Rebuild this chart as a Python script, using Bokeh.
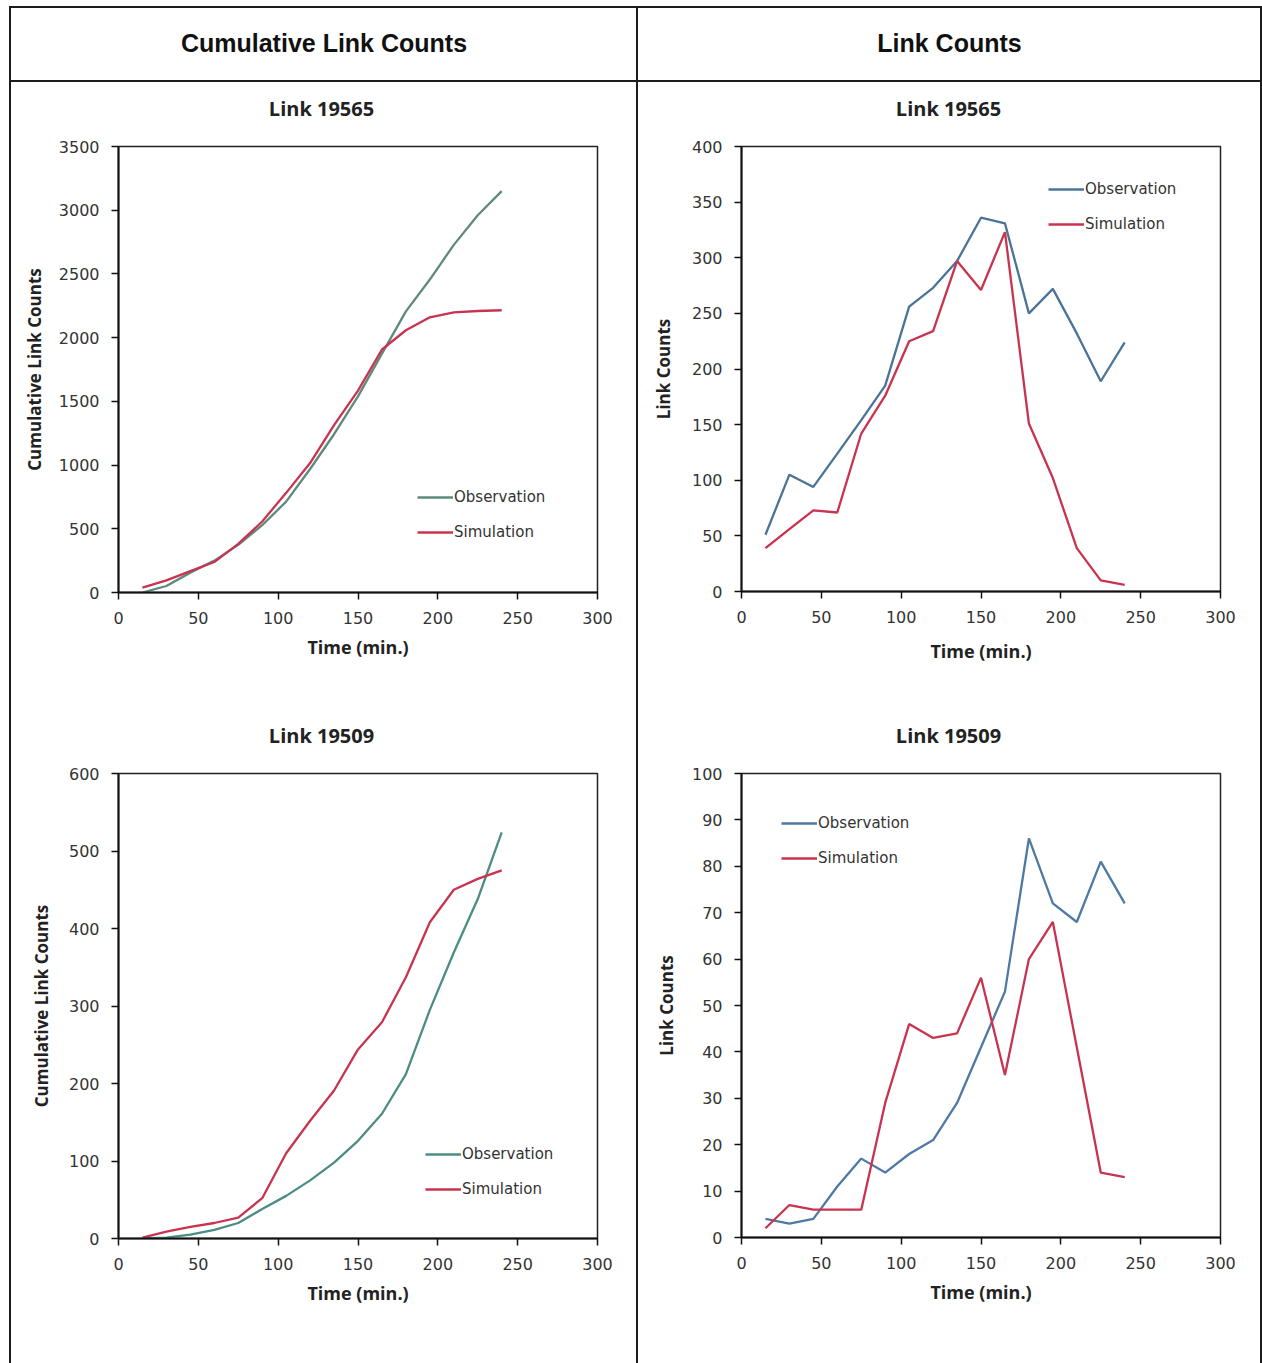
from bokeh.plotting import figure
from bokeh.models import Range1d, FixedTicker, Spacer
from bokeh.layouts import row, column
from bokeh.core.properties import value
from bokeh.embed import file_html
from bokeh.resources import INLINE

# ---------------- data ----------------
times = [15, 30, 45, 60, 75, 90, 105, 120, 135, 150, 165, 180, 195, 210, 225, 240]

cum_19565_obs = [0, 51, 156, 250, 374, 528, 713, 969, 1242, 1539, 1875, 2206, 2456, 2728, 2960, 3150]
cum_19565_sim = [39, 95, 168, 239, 381, 557, 782, 1016, 1313, 1584, 1907, 2058, 2160, 2199, 2209, 2215]

cnt_19565_obs = [51, 105, 94, 124, 154, 185, 256, 273, 297, 336, 331, 250, 272, 232, 189, 224]
cnt_19565_sim = [39, 56, 73, 71, 142, 176, 225, 234, 297, 271, 323, 151, 102, 39, 10, 6]

cum_19509_obs = [0, 1, 5, 11, 20, 38, 55, 75, 98, 126, 161, 212, 295, 369, 438, 524]
cum_19509_sim = [1, 9, 15, 20, 27, 52, 110, 152, 191, 244, 279, 337, 408, 450, 464, 475]

cnt_19509_obs = [4, 3, 4, 11, 17, 14, 18, 21, 29, 41, 53, 86, 72, 68, 81, 72]
cnt_19509_sim = [2, 7, 6, 6, 6, 29, 46, 43, 44, 56, 35, 60, 68, 41, 14, 13]

header_left = "Cumulative Link Counts"
header_right = "Link Counts"
title_top = "Link 19565"
title_bottom = "Link 19509"
x_ticks = [0, 50, 100, 150, 200, 250, 300]

SIM_COLOR = "#c8344f"
RULE = "#1c1c1c"
TICK_FONT = "DejaVu Sans"
LABEL_FONT = "Open Sans"


def rule(w, h):
    return Spacer(width=w, height=h, styles={"background-color": RULE})


def text_box(w, h, txt, xc, yc_from_top, font, size, color, ml=0, mr=0):
    fw = w - ml - mr
    p = figure(width=w, height=h, toolbar_location=None, output_backend="svg",
               x_range=Range1d(0, fw), y_range=Range1d(0, h),
               x_axis_location=None, y_axis_location=None, min_border=0,
               min_border_left=ml, min_border_right=mr, title=None)
    p.grid.visible = False
    p.outline_line_color = None
    p.text(x=[xc - ml], y=[h - yc_from_top], text=[txt], text_align="center",
           text_baseline="middle", text_font=value(font), text_font_style="bold",
           text_font_size=size, text_color=color)
    return p


def chart(w, h, borders, ylabel, ymax, ystep, obs, sim, obs_color,
          legend_loc, ylab_standoff, xlab_standoff):
    ml, mr, mt, mb = borders
    p = figure(width=w, height=h, toolbar_location=None, output_backend="svg",
               x_range=Range1d(0, 300), y_range=Range1d(0, ymax),
               min_border_left=ml, min_border_right=mr,
               min_border_top=mt, min_border_bottom=mb, title=None)

    p.line(times, obs, line_color=obs_color, line_width=2.3, legend_label="Observation")
    p.line(times, sim, line_color=SIM_COLOR, line_width=2.3, legend_label="Simulation")

    p.grid.visible = False
    p.outline_line_color = "#222222"
    p.outline_line_width = 1.5
    p.background_fill_color = "white"
    p.border_fill_color = "white"

    p.xaxis.ticker = FixedTicker(ticks=x_ticks)
    p.yaxis.ticker = FixedTicker(ticks=list(range(0, ymax + 1, ystep)))
    for ax in (p.xaxis[0], p.yaxis[0]):
        ax.axis_line_width = 2
        ax.axis_line_color = "#111111"
        ax.major_tick_line_color = "#111111"
        ax.major_tick_line_width = 1.5
        ax.major_tick_out = 7
        ax.major_tick_in = 0
        ax.minor_tick_out = 0
        ax.minor_tick_in = 0
        ax.major_label_text_font = TICK_FONT
        ax.major_label_text_font_size = "16px"
        ax.major_label_text_color = "#333333"
        ax.major_label_standoff = 12
        ax.axis_label_text_font = LABEL_FONT
        ax.axis_label_text_font_style = "bold"
        ax.axis_label_text_color = "#222222"
    p.xaxis.axis_label = "Time (min.)"
    p.xaxis.axis_label_text_font_size = "18px"
    p.xaxis.axis_label_standoff = xlab_standoff
    p.yaxis.axis_label = ylabel
    p.yaxis.axis_label_text_font_size = "17px"
    p.yaxis.axis_label_standoff = ylab_standoff

    lg = p.legend[0]
    lg.location = legend_loc
    lg.border_line_color = None
    lg.background_fill_alpha = 0
    lg.padding = 0
    lg.margin = 0
    lg.spacing = 15
    lg.glyph_width = 36
    lg.glyph_height = 20
    lg.label_height = 20
    lg.label_standoff = 1
    lg.label_text_font = TICK_FONT
    lg.label_text_font_size = "15px"
    lg.label_text_color = "#333333"
    return p


tl = chart(625, 576, (107, 39, 12, 118), "Cumulative Link Counts", 3500, 500,
           cum_19565_obs, cum_19565_sim, "#5e8a7d", (299, 50), 10, 8)
tr = chart(622, 576, (103, 40, 12, 119), "Link Counts", 400, 50,
           cnt_19565_obs, cnt_19565_sim, "#4a7497", (307, 357), 14, 13)
bl = chart(625, 603, (107, 39, 13, 125), "Cumulative Link Counts", 600, 100,
           cum_19509_obs, cum_19509_sim, "#4b8c84", (307, 39), 13, 8)
br = chart(622, 603, (103, 40, 13, 126), "Link Counts", 100, 10,
           cnt_19509_obs, cnt_19509_sim, "#4d79a3", (40, 369), 11, 8)

left_col = column(
    text_box(625, 52, title_top, 310, 26, LABEL_FONT, "20px", "#222222", 107, 39), tl,
    text_box(625, 50, title_bottom, 310, 25, LABEL_FONT, "20px", "#222222", 107, 39), bl,
)
right_col = column(
    text_box(622, 52, title_top, 310, 26, LABEL_FONT, "20px", "#222222", 103, 40), tr,
    text_box(622, 50, title_bottom, 310, 25, LABEL_FONT, "20px", "#222222", 103, 40), br,
)

layout = column(
    Spacer(width=1262, height=6),
    row(Spacer(width=9, height=2), rule(1253, 2)),
    row(Spacer(width=9, height=72), rule(2, 72),
        text_box(625, 72, header_left, 312.5, 34, "Liberation Sans", "25px", "#111111"), rule(2, 72),
        text_box(622, 72, header_right, 311, 34, "Liberation Sans", "25px", "#111111"), rule(2, 72)),
    row(Spacer(width=9, height=2), rule(1253, 2)),
    row(Spacer(width=9, height=1281), rule(2, 1281), left_col, rule(2, 1281),
        right_col, rule(2, 1281)),
)

open("out.html", "w").write(file_html(layout, INLINE))
